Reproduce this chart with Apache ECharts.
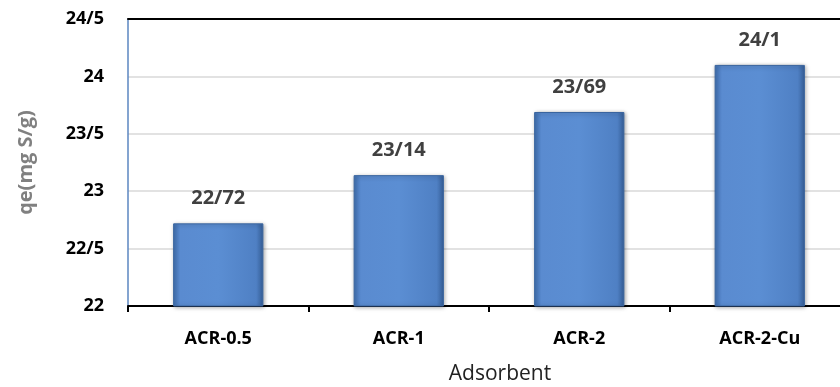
<!DOCTYPE html>
<html>
<head>
<meta charset="utf-8">
<script src="https://cdn.jsdelivr.net/npm/echarts@6/dist/echarts.min.js"></script>
<style>
html,body{margin:0;padding:0;background:#fff;}
#chart{width:840px;height:387px;}
</style>
</head>
<body>
<div id="chart"></div>
<script>
// Adsorption capacity per adsorbent
const categories = ['ACR-0.5', 'ACR-1', 'ACR-2', 'ACR-2-Cu'];
const qeValues = [22.72, 23.14, 23.69, 24.1];
const yTicks = [22, 22.5, 23, 23.5, 24, 24.5];

// Persian-style decimal separator
const fmt = v => String(v).replace('.', '/');

const FONT = '"Open Sans", "Liberation Sans", sans-serif';

const chart = echarts.init(document.getElementById('chart'));
chart.setOption({
  animation: false,
  grid: { left: 128, right: -10, top: 19, bottom: 81, containLabel: false, outerBoundsMode: 'none' },
  xAxis: [{
    type: 'category',
    data: categories,
    name: 'Adsorbent',
    nameLocation: 'middle',
    nameGap: 58,
    nameTextStyle: { fontFamily: FONT, fontSize: 21, color: '#222', padding: [0, 0, 0, 22] },
    axisLine: { lineStyle: { color: '#000', width: 2 } },
    axisTick: { show: true, length: 6, lineStyle: { color: '#000', width: 2 } },
    axisLabel: { fontFamily: FONT, fontWeight: 'bold', fontSize: 18, color: '#000', margin: 24 }
  }, {
    type: 'category',
    data: categories,
    position: 'top',
    axisLine: { show: true, lineStyle: { color: '#000', width: 2 } },
    axisTick: { show: false },
    axisLabel: { show: false }
  }],
  yAxis: {
    type: 'value',
    min: yTicks[0],
    max: yTicks[yTicks.length - 1],
    interval: 0.5,
    name: 'qe(mg S/g)',
    nameLocation: 'middle',
    nameGap: 92,
    nameTextStyle: { fontFamily: FONT, fontWeight: 'bold', fontSize: 20, color: '#808080' },
    axisLine: { show: true, lineStyle: { color: '#5b86c0', width: 1.5 } },
    axisTick: { show: false },
    splitLine: { lineStyle: { color: '#d9d9d9', width: 1.5 } },
    axisLabel: { fontFamily: FONT, fontWeight: 'bold', fontSize: 18, color: '#000', margin: 24, formatter: fmt }
  },
  series: [{
    type: 'bar',
    data: qeValues,
    barWidth: '50%',
    itemStyle: {
      color: new echarts.graphic.LinearGradient(0, 0, 1, 0, [
        { offset: 0, color: '#3f6fb0' },
        { offset: 0.08, color: '#5a8bd0' },
        { offset: 0.5, color: '#5b8ed3' },
        { offset: 0.92, color: '#4f80c4' },
        { offset: 1, color: '#365f98' }
      ]),
      borderColor: '#3a659f',
      borderWidth: 1,
      shadowColor: 'rgba(0,0,0,0.35)',
      shadowBlur: 4,
      shadowOffsetX: 1,
      shadowOffsetY: 1
    },
    label: {
      show: true,
      position: 'top',
      distance: 15,
      fontFamily: FONT,
      fontWeight: 'bold',
      fontSize: 20,
      color: '#404040',
      formatter: p => fmt(p.value)
    }
  }]
});
</script>
</body>
</html>
